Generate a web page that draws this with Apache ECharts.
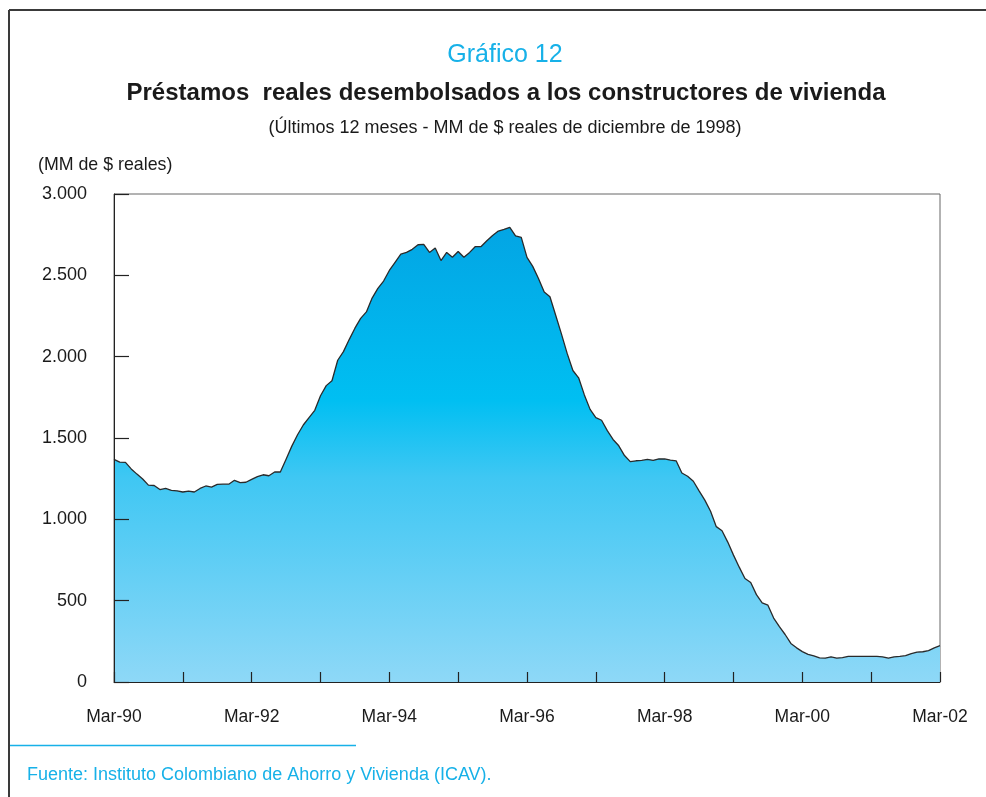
<!DOCTYPE html>
<html>
<head>
<meta charset="utf-8">
<script src="https://cdn.jsdelivr.net/npm/echarts@6/dist/echarts.min.js"></script>
<style>
html,body{margin:0;padding:0;background:#fff;}
#chart{width:986px;height:797px;}
</style>
</head>
<body>
<div id="chart"></div>
<script>
// ---- Data ----
const monthNames = ['Ene','Feb','Mar','Abr','May','Jun','Jul','Ago','Sep','Oct','Nov','Dic'];
const startYear = 1990;   // series starts March 1990
const startMonth = 2;     // index into monthNames (Mar)
const tickLabels = ['Mar-90','Mar-92','Mar-94','Mar-96','Mar-98','Mar-00','Mar-02'];

// Préstamos reales desembolsados (últimos 12 meses, MM de $ de dic-1998), monthly Mar-90 .. Mar-02
const values = [
  1369, 1352, 1350, 1310, 1278, 1248, 1210, 1208, 1183, 1190, 1178, 1175,
  1168, 1173, 1168, 1190, 1205, 1198, 1215, 1216, 1216, 1240, 1226, 1228,
  1246, 1262, 1274, 1268, 1291, 1291, 1370, 1450, 1520, 1580, 1625, 1670,
  1760, 1822, 1852, 1978, 2031, 2105, 2175, 2235, 2275, 2360, 2420, 2465,
  2530, 2580, 2630, 2641, 2660, 2688, 2690, 2641, 2668, 2591, 2641, 2611,
  2647, 2611, 2641, 2677, 2677, 2713, 2745, 2772, 2782, 2795, 2743, 2733,
  2610, 2555, 2480, 2397, 2368, 2255, 2140, 2020, 1915, 1870, 1765, 1676,
  1625, 1609, 1545, 1491, 1452, 1392, 1355, 1360, 1362, 1368, 1363, 1372,
  1371, 1364, 1360, 1285, 1265, 1234, 1175, 1118, 1050, 955, 930, 860,
  780, 706, 636, 612, 537, 486, 472, 393, 340, 292, 237, 210,
  187, 170, 161, 148, 147, 155, 147, 150, 157, 157, 157, 157,
  157, 157, 155, 147, 155, 157, 162, 175, 184, 186, 193, 210,
  223
];

const yTicks = {min: 0, max: 3000, interval: 500};

const categories = values.map((_, i) => {
  const m = startMonth + i;
  const y = startYear + Math.floor(m / 12);
  return monthNames[m % 12] + '-' + String(y % 100).padStart(2, '0');
});

function fmtThousands(v) {
  if (v < 1000) return String(v);
  return Math.floor(v / 1000) + '.' + String(v % 1000).padStart(3, '0');
}

const FONT = '"Liberation Sans", Arial, sans-serif';
const CYAN = '#17b1e8';
const INK = '#1a1a1a';

const chart = echarts.init(document.getElementById('chart'), null, {renderer: 'canvas'});
chart.setOption({
  animation: false,
  backgroundColor: '#ffffff',
  title: [
    {text: 'Gráfico 12', left: 500, top: 38, textAlign: 'center',
     textStyle: {fontFamily: FONT, fontSize: 25, fontWeight: 'normal', color: CYAN, lineHeight: 25}},
    {text: 'Préstamos  reales desembolsados a los constructores de vivienda', left: 501, top: 76, textAlign: 'center',
     textStyle: {fontFamily: FONT, fontSize: 24, fontWeight: 'bold', color: INK, lineHeight: 24}},
    {text: '(Últimos 12 meses - MM de $ reales de diciembre de 1998)', left: 500, top: 114, textAlign: 'center',
     textStyle: {fontFamily: FONT, fontSize: 18, fontWeight: 'normal', color: INK, lineHeight: 18}},
    {text: '(MM de $ reales)', left: 33, top: 151, textAlign: 'left',
     textStyle: {fontFamily: FONT, fontSize: 17.8, fontWeight: 'normal', color: INK, lineHeight: 18}},
    {text: 'Fuente: Instituto Colombiano de Ahorro y Vivienda (ICAV).', left: 22, top: 761, textAlign: 'left',
     textStyle: {fontFamily: FONT, fontSize: 18, fontWeight: 'normal', color: CYAN, lineHeight: 18}}
  ],
  graphic: [
    {type: 'line', shape: {x1: 9, y1: 10, x2: 986, y2: 10}, style: {stroke: '#3a3a3a', lineWidth: 2}},
    {type: 'line', shape: {x1: 9, y1: 10, x2: 9, y2: 797}, style: {stroke: '#3a3a3a', lineWidth: 2}},
    {type: 'line', shape: {x1: 10, y1: 745.5, x2: 356, y2: 745.5}, style: {stroke: CYAN, lineWidth: 1.5}}
  ],
  grid: {left: 114, right: 46, top: 194, bottom: 115, show: true, borderColor: '#666', borderWidth: 1, containLabel: false},
  xAxis: {
    type: 'category',
    data: categories,
    boundaryGap: false,
    z: 5,
    axisLine: {show: true, lineStyle: {color: '#222', width: 1}},
    axisTick: {show: true, inside: true, length: 10, interval: 11, lineStyle: {color: '#222', width: 1.2}},
    axisLabel: {
      interval: 23, margin: 26, fontFamily: FONT, fontSize: 17.5, color: INK,
      formatter: (v, i) => tickLabels[i / 24] || v
    },
    splitLine: {show: false}
  },
  yAxis: {
    type: 'value',
    min: yTicks.min, max: yTicks.max, interval: yTicks.interval,
    z: 5,
    axisLine: {show: true, lineStyle: {color: '#222', width: 1}},
    axisTick: {show: true, inside: true, length: 15, lineStyle: {color: '#222', width: 1.2}},
    axisLabel: {margin: 27, fontFamily: FONT, fontSize: 18, color: INK, formatter: v => fmtThousands(v)},
    splitLine: {show: false}
  },
  series: [{
    type: 'line',
    data: values,
    symbol: 'none',
    smooth: false,
    lineStyle: {color: '#2a2a2a', width: 1.3},
    areaStyle: {
      opacity: 1,
      color: new echarts.graphic.LinearGradient(0, 0, 0, 1, [
        {offset: 0, color: '#03a5e4'},
        {offset: 0.38, color: '#00bff2'},
        {offset: 0.55, color: '#3fc7f3'},
        {offset: 1, color: '#8ed8f7'}
      ])
    },
    z: 1
  }]
});
</script>
</body>
</html>
